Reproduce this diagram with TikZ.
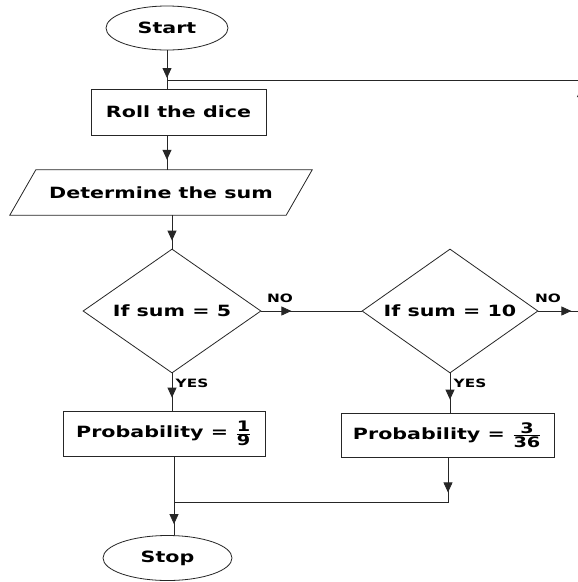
\documentclass[tikz,border=0pt]{standalone}
\usepackage{fontspec}
\setmainfont{DejaVu Sans}
\usetikzlibrary{shapes.geometric,arrows.meta,decorations.markings}

% wide bold lettering
\newcommand\widetxt[1]{\scalebox{1.33}[1]{#1}}
\newcommand\smallfrac[2]{\ensuremath{\frac{\mbox{\fontsize{14.5}{14.5}\selectfont #1}}{\mbox{\fontsize{14.5}{14.5}\selectfont #2}}}}

\tikzset{
  line/.style={draw=black!85, line width=0.8pt},
  terminal/.style={ellipse, line, inner sep=0pt, font=\fontsize{15.5}{15.5}\selectfont\bfseries},
  process/.style={rectangle, line, inner sep=0pt, font=\fontsize{15.5}{15.5}\selectfont\bfseries},
  decision/.style={diamond, line, inner sep=0pt, aspect=1.4, font=\fontsize{15.5}{15.5}\selectfont\bfseries},
  iobox/.style={rectangle, inner sep=0pt, font=\fontsize{15.5}{15.5}\selectfont\bfseries},
  tag/.style={inner sep=0pt, font=\fontsize{11.5}{11.5}\selectfont\bfseries},
  tip/.style={postaction={decorate}, decoration={markings,
      mark=at position #1 with {\arrow{Triangle[width=9pt,length=10pt]}}}},
  tiptwo/.style 2 args={postaction={decorate}, decoration={markings,
      mark=at position #1 with {\arrow{Triangle[width=9pt,length=10pt]}},
      mark=at position #2 with {\arrow{Triangle[width=9pt,length=10pt]}}}},
}

\begin{document}
\begin{tikzpicture}[x=1pt, y=-1pt]
  \useasboundingbox (0,0) rectangle (578,582);
  \fill[white] (0,0) rectangle (578,582);
  \clip (0,0) rectangle (578,582);

  % shapes
  \node[terminal, minimum width=122, minimum height=44] (start) at (167,28) {\widetxt{Start}};
  \node[process, minimum width=175, minimum height=46] (roll) at (178.5,112) {\widetxt{Roll the dice}};
  \node[iobox, minimum width=276, minimum height=45] (sum) at (161,192.5) {\widetxt{Determine the sum}};
  \draw[line] ([xshift=13]sum.north west) -- ([xshift=13]sum.north east)
              -- ([xshift=-13]sum.south east) -- ([xshift=-13]sum.south west) -- cycle;
  \node[decision, minimum width=178, minimum height=124] (five) at (172,311) {\widetxt{If sum = 5}};
  \node[decision, minimum width=176, minimum height=124] (ten) at (450,311) {\widetxt{If sum = 10}};
  \node[process, minimum width=202, minimum height=45] (pone) at (164,433.5)
      {\widetxt{Probability = \smallfrac{1}{9}}};
  \node[process, minimum width=213, minimum height=44] (ptwo) at (447.5,435)
      {\widetxt{Probability = \smallfrac{3}{36}}};
  \node[terminal, minimum width=129, minimum height=45] (stop) at (167.5,558) {\widetxt{Stop}};

  % branch labels
  \node[tag] (nofive) at (280,298) {\widetxt{NO}};
  \node[tag] (noten) at (548,298) {\widetxt{NO}};
  \node[tag] (yesfive) at (192,383) {\widetxt{YES}};
  \node[tag] (yesten) at (470,383) {\widetxt{YES}};

  % junctions
  \coordinate (loopin) at (167,80);
  \coordinate (merge) at (174,502);
  \coordinate (mergeright) at (448,502);
  \coordinate (loopcorner) at (581.5,311);
  \coordinate (looptop) at (581.5,80);

  % connectors
  \draw[line, tip=-2pt] (start.south -| loopin) -- (loopin);
  \draw[line] (loopin) -- (roll.north -| loopin);
  \draw[line, tip=-10pt] (roll.south -| loopin) -- (sum.north -| loopin);
  \draw[line, tip=-8pt] (five.north |- sum.south) -- (five.north);
  \draw[line, tip=30pt] (five.east) -- (ten.west);
  \draw[line, tiptwo={33pt}{267pt}] (ten.east) -- (loopcorner) -- (looptop) -- (loopin);
  \draw[line, tip=-13pt] (five.south) -- (five.south |- pone.north);
  \draw[line, tip=-13pt] (ten.south) -- (ten.south |- ptwo.north);
  \draw[line] (pone.south -| merge) -- (merge);
  \draw[line, tip=35pt] (ptwo.south -| mergeright) -- (mergeright) -- (merge);
  \draw[line, tip=-11pt] (merge) -- (merge |- stop.north);
\end{tikzpicture}
\end{document}
